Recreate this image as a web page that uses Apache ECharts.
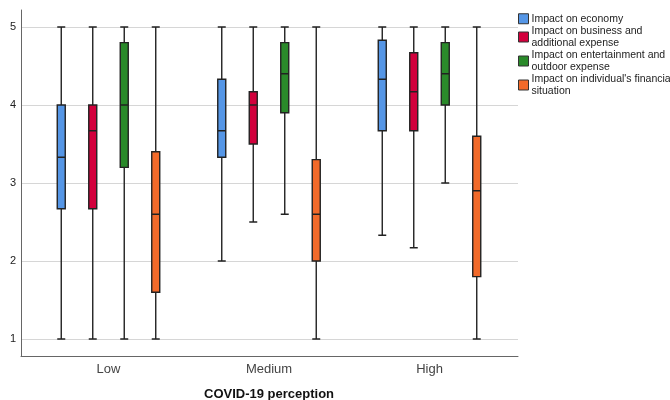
<!DOCTYPE html>
<html>
<head>
<meta charset="utf-8">
<script src="https://cdn.jsdelivr.net/npm/echarts@6/dist/echarts.min.js"></script>
<style>
  html, body { margin: 0; padding: 0; background: #fff; }
  #chart { width: 670px; height: 400px; }
</style>
</head>
<body>
<div id="chart"></div>
<script>
// groups on the x axis
let groups = ['Low', 'Medium', 'High'];
let groupPos = [0, 1, 2];
let seriesNames = [
    'Impact on economy',
    'Impact on business and additional expense',
    'Impact on entertainment and outdoor expense',
    "Impact on individual's financial situation"
];
// legend text as wrapped in the original
let legendText = [
    'Impact on economy',
    'Impact on business and\nadditional expense',
    'Impact on entertainment and\noutdoor expense',
    "Impact on individual's financial\nsituation"
];
let colors = ['#5596e6', '#d2003c', '#2a8a2a', '#f26a2a'];
let yTicks = [1, 2, 3, 4, 5];

// [min, Q1, median, Q3, max] per group
let economy = [
    [1, 2.67, 3.33, 4.0, 5],
    [2, 3.33, 3.67, 4.33, 5],
    [2.33, 3.67, 4.33, 4.83, 5]
];
let business = [
    [1, 2.67, 3.67, 4.0, 5],
    [2.5, 3.5, 4.0, 4.17, 5],
    [2.17, 3.67, 4.17, 4.67, 5]
];
let entertainment = [
    [1, 3.2, 4.0, 4.8, 5],
    [2.6, 3.9, 4.4, 4.8, 5],
    [3, 4.0, 4.4, 4.8, 5]
];
let financial = [
    [1, 1.6, 2.6, 3.4, 5],
    [1, 2.0, 2.6, 3.3, 5],
    [1, 1.8, 2.9, 3.6, 5]
];
let allData = [economy, business, entertainment, financial];

let yMin = 0.782;
let yMax = 5.218;

var myChart = echarts.init(document.getElementById('chart'));

let series = [];
allData.forEach(function (d, i) {
    series.push({
        name: seriesNames[i],
        type: 'boxplot',
        xAxisIndex: 0,
        yAxisIndex: 0,
        boxWidth: [8, 8],
        // put group position in front of each box
        data: d.map(function (v, j) { return [groupPos[j]].concat(v); }),
        itemStyle: {
            color: colors[i],
            borderColor: '#222',
            borderWidth: 1.4
        },
        emphasis: { disabled: true }
    });
});

let legendData = seriesNames.map(function (n, i) {
    return { name: n, itemStyle: { color: colors[i], borderColor: '#333', borderWidth: 1 } };
});

let option = {
    animation: false,
    textStyle: { fontFamily: '"Liberation Sans", Arial, sans-serif' },
    legend: {
        orient: 'vertical',
        left: 513,
        top: 8,
        itemWidth: 10,
        itemHeight: 10,
        itemGap: 1,
        icon: 'rect',
        data: legendData,
        formatter: function (name) {
            return legendText[seriesNames.indexOf(name)];
        },
        textStyle: {
            fontSize: 10.5,
            lineHeight: 11.5,
            color: '#222',
            padding: [0, 0, 0, -2]
        }
    },
    grid: [
        // boxes
        { left: 45.5, right: 177.5, top: 10, bottom: 44, outerBoundsMode: 'none' },
        // frame: axis lines + grid lines
        { left: 21, right: 152, top: 10, bottom: 44, outerBoundsMode: 'none' }
    ],
    xAxis: [
        {
            type: 'value',
            gridIndex: 0,
            min: -0.3925,
            max: 2.3925,
            axisLine: { show: false },
            axisTick: { show: false, customValues: groupPos },
            splitLine: { show: false },
            axisLabel: {
                customValues: groupPos,
                color: '#444',
                fontSize: 13,
                margin: 7,
                formatter: function (v) { return groups[v]; }
            },
            name: 'COVID-19 perception',
            nameLocation: 'middle',
            nameGap: 32,
            nameTextStyle: { color: '#111', fontSize: 13, fontWeight: 'bold' }
        },
        {
            type: 'value',
            gridIndex: 1,
            min: 0,
            max: 1,
            axisLine: { show: true, lineStyle: { color: '#666', width: 1 } },
            axisTick: { show: false },
            axisLabel: { show: false },
            splitLine: { show: false }
        }
    ],
    yAxis: [
        {
            type: 'value',
            gridIndex: 0,
            min: yMin,
            max: yMax,
            show: false
        },
        {
            type: 'value',
            gridIndex: 1,
            min: yMin,
            max: yMax,
            axisLine: { show: true, lineStyle: { color: '#666', width: 1 } },
            axisTick: { show: false, customValues: yTicks },
            axisLabel: { customValues: yTicks, color: '#222', fontSize: 11, margin: 5 },
            splitLine: { show: true, lineStyle: { color: '#d6d6d6', width: 1.2 } }
        }
    ],
    series: series
};

myChart.setOption(option);
</script>
</body>
</html>
